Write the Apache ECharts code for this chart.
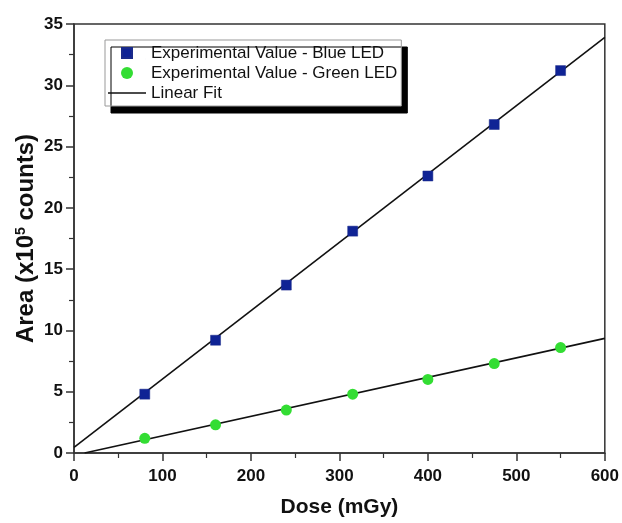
<!DOCTYPE html>
<html>
<head>
<meta charset="utf-8">
<script src="https://cdn.jsdelivr.net/npm/echarts@6/dist/echarts.min.js"></script>
<style>
  html, body { margin: 0; padding: 0; background: #fff; }
  #chart { width: 622px; height: 523px; }
</style>
</head>
<body>
<div id="chart"></div>
<script>
// dose values (mGy)
var doses = [80, 160, 240, 315, 400, 475, 550];
// area (x10^5 counts)
var blueValues = [4.8, 9.2, 13.7, 18.1, 22.6, 26.8, 31.2];
var greenValues = [1.2, 2.3, 3.5, 4.8, 6.0, 7.3, 8.6];
// linear fit end points
var blueFitX = [0, 600];
var blueFitY = [0.45, 33.9];
var greenFitX = [12, 600];
var greenFitY = [0, 9.35];
var xTicks = [0, 100, 200, 300, 400, 500, 600];
var yTicks = [0, 5, 10, 15, 20, 25, 30, 35];

function pairs(xs, ys) {
  var out = [];
  for (var i = 0; i < xs.length; i++) {
    out.push([xs[i], ys[i]]);
  }
  return out;
}

var myChart = echarts.init(document.getElementById('chart'));
var font = 'Liberation Sans, Arial, sans-serif';

// legend icons: shapes centred in a 38x12 box so they are not stretched
var squareIcon = 'path://M0,0L0.01,0Z M14,1L24,1L24,11L14,11Z M38,12L37.99,12Z';
var lineIcon = 'path://M0,0L0.01,0Z M0,5.2L38,5.2L38,6.8L0,6.8Z M38,12L37.99,12Z';

var option = {
  backgroundColor: '#ffffff',
  animation: false,
  legend: {
    orient: 'vertical',
    left: 105,
    top: 40,
    padding: [3, 4, 3, 2],
    itemGap: 0,
    itemWidth: 38,
    itemHeight: 12,
    backgroundColor: '#ffffff',
    borderColor: '#999',
    borderWidth: 1,
    borderRadius: 0,
    shadowColor: '#000',
    shadowBlur: 0,
    shadowOffsetX: 6,
    shadowOffsetY: 7,
    textStyle: {
      fontFamily: font,
      fontSize: 17,
      lineHeight: 20,
      color: '#111'
    },
    data: [
      { name: 'Experimental Value - Blue LED', icon: squareIcon },
      { name: 'Experimental Value - Green LED', icon: 'circle' },
      { name: 'Linear Fit', icon: lineIcon }
    ]
  },
  grid: {
    left: 74,
    right: 15,
    top: 24,
    bottom: 70,
    show: true,
    borderColor: '#333',
    borderWidth: 1.5,
    backgroundColor: 'transparent'
  },
  xAxis: {
    type: 'value',
    min: xTicks[0],
    max: xTicks[xTicks.length - 1],
    interval: 100,
    name: 'Dose (mGy)',
    nameLocation: 'middle',
    nameGap: 44,
    nameMoveOverlap: false,
    nameTextStyle: {
      fontFamily: font,
      fontSize: 21,
      fontWeight: 'bold',
      color: '#111',
      verticalAlign: 'top'
    },
    axisLine: { lineStyle: { color: '#333', width: 1.5 } },
    axisTick: { length: 8, lineStyle: { color: '#333', width: 1.5 } },
    minorTick: { show: true, splitNumber: 2, length: 5, lineStyle: { color: '#333', width: 1.2 } },
    splitLine: { show: false },
    axisLabel: {
      margin: 15,
      fontFamily: font,
      fontSize: 17,
      fontWeight: 'bold',
      color: '#111'
    }
  },
  yAxis: {
    type: 'value',
    min: yTicks[0],
    max: yTicks[yTicks.length - 1],
    interval: 5,
    name: 'Area (x10{sup|5} counts)',
    nameLocation: 'middle',
    nameGap: 36,
    nameMoveOverlap: false,
    nameTextStyle: {
      fontFamily: font,
      fontSize: 24,
      fontWeight: 'bold',
      color: '#111',
      rich: {
        sup: {
          fontFamily: font,
          fontSize: 14,
          fontWeight: 'bold',
          color: '#111',
          verticalAlign: 'top',
          padding: [0, 0, 10, 0]
        }
      }
    },
    axisLine: { lineStyle: { color: '#333', width: 1.5 } },
    axisTick: { length: 8, lineStyle: { color: '#333', width: 1.5 } },
    minorTick: { show: true, splitNumber: 2, length: 5, lineStyle: { color: '#333', width: 1.2 } },
    splitLine: { show: false },
    axisLabel: {
      margin: 11,
      fontFamily: font,
      fontSize: 17,
      fontWeight: 'bold',
      color: '#111'
    }
  },
  series: [
    {
      name: 'Linear Fit',
      type: 'line',
      symbol: 'none',
      z: 1,
      lineStyle: { color: '#111', width: 1.6 },
      itemStyle: { color: '#111' },
      data: pairs(blueFitX, blueFitY)
    },
    {
      name: 'Linear Fit',
      type: 'line',
      symbol: 'none',
      z: 1,
      lineStyle: { color: '#111', width: 1.6 },
      itemStyle: { color: '#111' },
      data: pairs(greenFitX, greenFitY)
    },
    {
      name: 'Experimental Value - Blue LED',
      type: 'scatter',
      symbol: 'rect',
      symbolSize: 10,
      z: 3,
      itemStyle: { color: '#0f2395', borderColor: '#1a2a8a', borderWidth: 0.5, opacity: 1 },
      data: pairs(doses, blueValues)
    },
    {
      name: 'Experimental Value - Green LED',
      type: 'scatter',
      symbol: 'circle',
      symbolSize: 11,
      z: 3,
      itemStyle: { color: '#33dd33', opacity: 1 },
      data: pairs(doses, greenValues)
    }
  ]
};

option && myChart.setOption(option);
</script>
</body>
</html>
